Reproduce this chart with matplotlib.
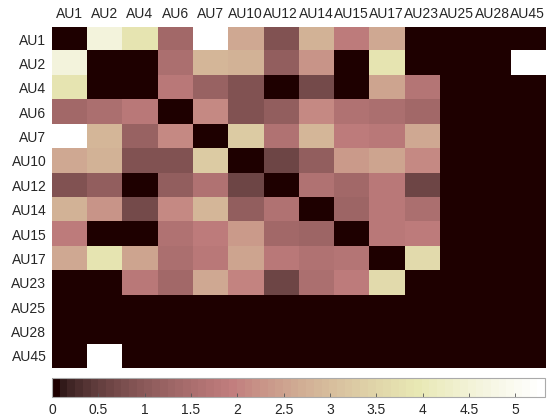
import matplotlib
matplotlib.use("Agg")
import matplotlib.pyplot as plt
import numpy as np

# action unit labels (rows and columns)
aus = ["AU1", "AU2", "AU4", "AU6", "AU7", "AU10", "AU12", "AU14",
       "AU15", "AU17", "AU23", "AU25", "AU28", "AU45"]

# values
row_au1 = [0, 4.6, 3.9, 1.4, 5.3, 2.6, 0.9, 2.8, 1.9, 2.6, 0, 0, 0, 0]
row_au2 = [4.6, 0, 0, 1.5, 2.9, 2.8, 1.1, 2.3, 0, 3.9, 0, 0, 0, 5.3]
row_au4 = [3.9, 0, 0, 1.8, 1.2, 0.9, 0, 0.7, 0, 2.5, 1.7, 0, 0, 0]
row_au6 = [1.4, 1.5, 1.8, 0, 2.1, 0.9, 1.1, 2.1, 1.6, 1.5, 1.4, 0, 0, 0]
row_au7 = [5.3, 2.9, 1.2, 2.1, 0, 3.3, 1.6, 2.9, 1.9, 1.8, 2.6, 0, 0, 0]
row_au10 = [2.6, 2.8, 0.9, 0.9, 3.3, 0, 0.6, 1.1, 2.4, 2.5, 2.1, 0, 0, 0]
row_au12 = [0.9, 1.1, 0, 1.1, 1.6, 0.6, 0, 1.6, 1.4, 1.8, 0.6, 0, 0, 0]
row_au14 = [2.8, 2.3, 0.7, 2.1, 2.9, 1.1, 1.6, 0, 1.3, 1.8, 1.5, 0, 0, 0]
row_au15 = [1.9, 0, 0, 1.6, 1.9, 2.4, 1.4, 1.3, 0, 1.8, 1.9, 0, 0, 0]
row_au17 = [2.6, 3.9, 2.5, 1.5, 1.8, 2.5, 1.8, 1.6, 1.7, 0, 3.6, 0, 0, 0]
row_au23 = [0, 0, 1.8, 1.4, 2.6, 2.0, 0.6, 1.5, 1.9, 3.6, 0, 0, 0, 0]
row_au25 = [0] * 14
row_au28 = [0] * 14
row_au45 = [0, 5.3, 0, 0, 0, 0, 0, 0, 0, 0, 0, 0, 0, 0]

cbar_ticks = [0, 0.5, 1, 1.5, 2, 2.5, 3, 3.5, 4, 4.5, 5]
vmax = 5.32

data = np.array([row_au1, row_au2, row_au4, row_au6, row_au7, row_au10,
                 row_au12, row_au14, row_au15, row_au17, row_au23,
                 row_au25, row_au28, row_au45])

plt.rcParams['font.family'] = ['Liberation Sans', 'DejaVu Sans']

fig = plt.figure(figsize=(5.49, 4.18), dpi=100)
ax = fig.add_axes([0.0947, 0.1196, 0.898, 0.816])
cmap = plt.get_cmap('pink').resampled(64)
im = ax.imshow(data, cmap=cmap, vmin=0, vmax=vmax, aspect='auto',
               interpolation='nearest')
ax.set_xticks(range(len(aus)))
ax.set_xticklabels(aus, fontsize=10)
ax.set_yticks(range(len(aus)))
ax.set_yticklabels(aus, fontsize=10)
ax.xaxis.tick_top()
ax.tick_params(length=0, pad=4, labelcolor='#262626')
for s in ax.spines.values():
    s.set_visible(False)

cax = fig.add_axes([0.0947, 0.050, 0.898, 0.0455])
cb = fig.colorbar(im, cax=cax, orientation='horizontal', ticks=cbar_ticks)
cb.ax.set_xticklabels([f"{t:g}" for t in cbar_ticks], fontsize=10)
cb.ax.tick_params(direction='in', length=3, width=0.6, color='#555555',
                  pad=4, labelcolor='#262626')
cb.outline.set_edgecolor('#aaaaaa')
cb.outline.set_linewidth(0.8)

fig.savefig("out.png", dpi=100)
